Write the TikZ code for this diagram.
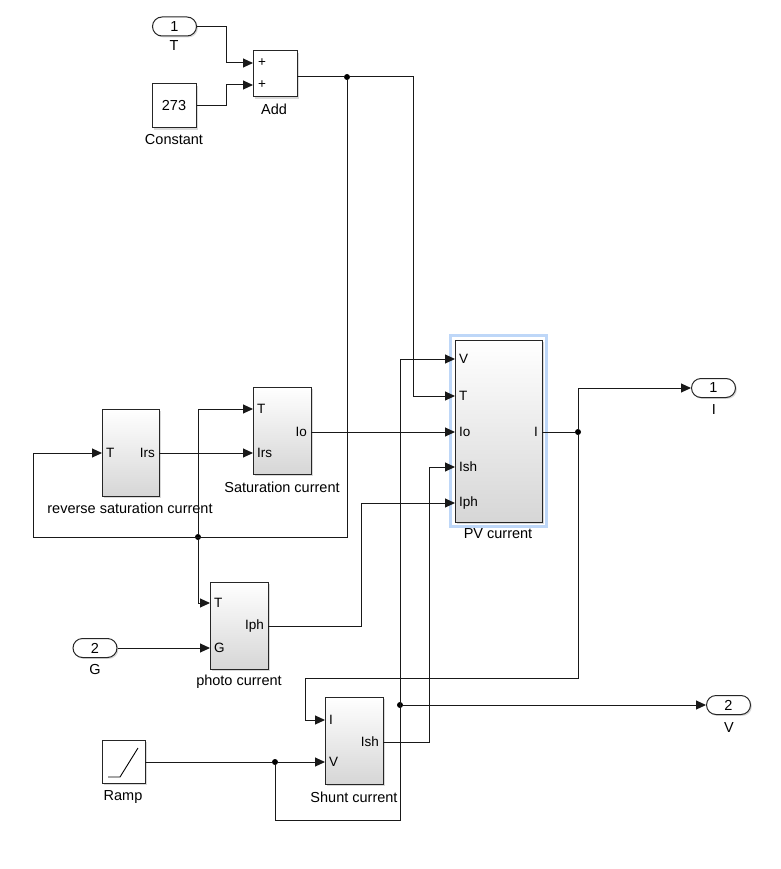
\documentclass[tikz,border=0pt]{standalone}
\usepackage{fontspec}
\setmainfont{Liberation Sans}
\usetikzlibrary{arrows.meta,shadows,calc}
\begin{document}
\begin{tikzpicture}[x=1pt,y=-1pt,
  every node/.style={inner sep=0pt},
  lbl/.style={font=\fontsize{14.5}{16}\selectfont},
  plbl/.style={font=\fontsize{13.5}{15}\selectfont},
  blk/.style={draw=black!85,line width=1pt,top color=white,bottom color=black!16,
     drop shadow={shadow xshift=1.6pt,shadow yshift=-1.6pt,opacity=0.3}},
  simp/.style={draw=black!85,line width=1pt,fill=white,
     drop shadow={shadow xshift=1.6pt,shadow yshift=-1.6pt,opacity=0.3}},
  pill/.style={draw=black!85,line width=1pt,fill=white,rounded corners=9.5pt,
     minimum width=44pt,minimum height=19pt,font=\fontsize{14.5}{16}\selectfont,
     drop shadow={shadow xshift=1.4pt,shadow yshift=-1.4pt,opacity=0.3}},
  wire/.style={draw=black!90,line width=1pt},
  arr/.style={wire,-{Triangle[length=10pt,width=9pt]}},
  dot/.style={circle,fill=black,minimum size=6pt}
]
\useasboundingbox (0,0) rectangle (780,869);

% ---------- blocks ----------
\node[pill] (inT) at (174.5,26.5) {1};
\node[lbl] (inTl) at (174,46) {T};
\node[simp,minimum width=44pt,minimum height=46pt] (add) at (275,74) {};
\node[plbl] (addp1) at (262,63) {+};
\node[plbl] (addp2) at (262,85) {+};
\node[lbl] (addl) at (274,109) {Add};
\node[simp,minimum width=44pt,minimum height=44pt,font=\fontsize{14.5}{16}\selectfont] (const) at (174,106) {273};
\node[lbl] (constl) at (174,140) {Constant};

\node[blk,minimum width=57pt,minimum height=87pt] (rsc) at (130.5,452.5) {};
\node[plbl,anchor=west] (rscT) at (106,453) {T};
\node[plbl,anchor=east] (rscI) at (155,453) {Irs};
\node[lbl] (rscl) at (130,508) {reverse saturation current};

\node[blk,minimum width=58pt,minimum height=87pt] (sat) at (282,430.5) {};
\node[plbl,anchor=west] (satT) at (257,409) {T};
\node[plbl,anchor=west] (satI) at (257,453) {Irs};
\node[plbl,anchor=east] (satO) at (307,432) {Io};
\node[lbl] (satl) at (282,487) {Saturation current};

\draw[draw={rgb,255:red,190;green,215;blue,248},line width=3.5pt] (450.5,335.5) rectangle (546.5,526.5);
\node[blk,minimum width=87pt,minimum height=182pt] (pv) at (498.5,431) {};
\node[plbl,anchor=west] (pvV) at (459,359) {V};
\node[plbl,anchor=west] (pvT) at (459,396) {T};
\node[plbl,anchor=west] (pvIo) at (459,432) {Io};
\node[plbl,anchor=west] (pvIsh) at (459,467) {Ish};
\node[plbl,anchor=west] (pvIph) at (459,503) {Iph};
\node[plbl,anchor=east] (pvI) at (538,432) {I};
\node[lbl] (pvl) at (498,534) {PV current};

\node[blk,minimum width=58pt,minimum height=87pt] (ph) at (239,625.5) {};
\node[plbl,anchor=west] (phT) at (214,603) {T};
\node[plbl,anchor=west] (phG) at (214,648) {G};
\node[plbl,anchor=east] (phO) at (264,626) {Iph};
\node[lbl] (phl) at (239,682) {photo current};

\node[pill] (inG) at (95,648) {2};
\node[lbl] (inGl) at (95,670) {G};

\node[blk,minimum width=58pt,minimum height=87pt] (sh) at (354,740.5) {};
\node[plbl,anchor=west] (shI) at (329,720) {I};
\node[plbl,anchor=west] (shV) at (329,762) {V};
\node[plbl,anchor=east] (shO) at (379,742) {Ish};
\node[lbl] (shl) at (354,797) {Shunt current};

\node[simp,minimum width=43pt,minimum height=43pt] (ramp) at (123.5,762) {};
\draw[line width=0.9pt] (108,777) -- (120,777) -- (138,748);
\node[lbl] (rampl) at (123,797) {Ramp};

\node[pill] (out1) at (713.5,388) {1};
\node[lbl] (out1l) at (714,410) {I};
\node[pill] (out2) at (728.5,705) {2};
\node[lbl] (out2l) at (729,728) {V};

% ---------- port coordinates ----------
\coordinate (add-in1) at (253,63);
\coordinate (add-in2) at (253,85);
\coordinate (add-out) at (297,77);
\coordinate (rsc-T) at (102,453);
\coordinate (rsc-out) at (159,453);
\coordinate (sat-T) at (253,409);
\coordinate (sat-Irs) at (253,453);
\coordinate (sat-out) at (311,432);
\coordinate (pv-V) at (455,359);
\coordinate (pv-T) at (455,396);
\coordinate (pv-Io) at (455,432);
\coordinate (pv-Ish) at (455,467);
\coordinate (pv-Iph) at (455,503);
\coordinate (pv-out) at (542,432);
\coordinate (ph-T) at (210,603);
\coordinate (ph-G) at (210,648);
\coordinate (ph-out) at (268,626);
\coordinate (sh-I) at (325,720);
\coordinate (sh-V) at (325,762);
\coordinate (sh-out) at (383,742);
\coordinate (ramp-out) at (145,762);

% ---------- junctions ----------
\node[dot] (j1) at (347,77) {};
\node[dot] (j2) at (198,537) {};
\node[dot] (j3) at (578,432) {};
\node[dot] (j4) at (275,762) {};
\node[dot] (j5) at (400,705) {};

% ---------- wires ----------
\draw[arr] (inT.east) -- ++(29,0) |- (add-in1);
\draw[arr] (const.east) -- ++(30,0) |- (add-in2);
\draw[wire] (add-out) -- (j1);
\draw[arr] (j1) -- (413,77) |- (pv-T);
\draw[arr] (j1) -- (347,537) -- (33,537) |- (rsc-T);
\draw[arr] (j2) |- (sat-T);
\draw[arr] (j2) |- (ph-T);
\draw[arr] (rsc-out) -- (sat-Irs);
\draw[arr] (sat-out) -- (pv-Io);
\draw[arr] (ph-out) -- (361,626) |- (pv-Iph);
\draw[arr] (inG.east) -- (ph-G);
\draw[wire] (pv-out) -- (j3);
\draw[arr] (j3) |- (out1.west);
\draw[arr] (j3) -- (578,678) -- (305,678) |- (sh-I);
\draw[wire] (ramp-out) -- (j4);
\draw[arr] (j4) -- (sh-V);
\draw[arr] (j4) -- (275,820) -- (400,820) |- (pv-V);
\draw[arr] (j5) -- (out2.west);
\draw[arr] (sh-out) -- (429,742) |- (pv-Ish);
\end{tikzpicture}
\end{document}
